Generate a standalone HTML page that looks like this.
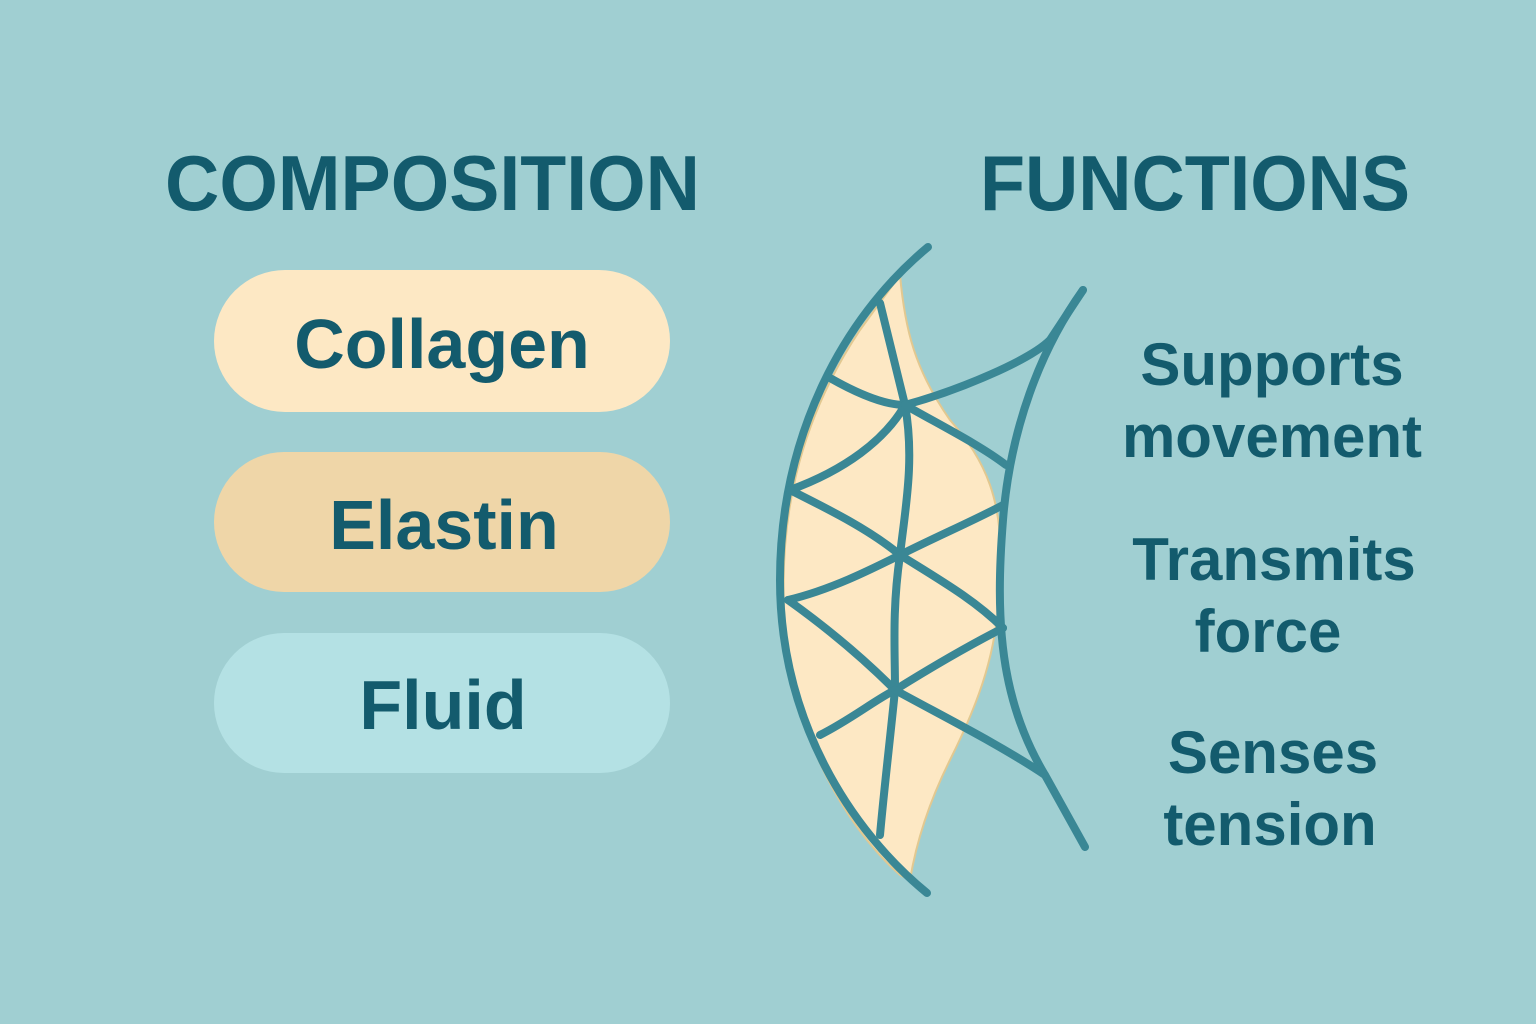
<!DOCTYPE html>
<html><head><style>html,body{margin:0;padding:0;background:#a0cfd2;}svg{display:block}</style></head>
<body>
<svg width="1536" height="1024" viewBox="0 0 1536 1024" xmlns="http://www.w3.org/2000/svg" font-family="Liberation Sans, sans-serif" font-weight="bold" fill="#135b6d">
<rect width="1536" height="1024" fill="#a0cfd2"/>
<text x="165" y="210" font-size="78" textLength="535" lengthAdjust="spacingAndGlyphs">COMPOSITION</text>
<text x="980" y="210" font-size="78" textLength="430" lengthAdjust="spacingAndGlyphs">FUNCTIONS</text>
<rect x="214" y="270" width="456" height="142" rx="71" fill="#fde8c4"/>
<rect x="214" y="452" width="456" height="140" rx="70" fill="#efd6a8"/>
<rect x="214" y="633" width="456" height="140" rx="70" fill="#b4e1e4"/>
<g font-size="70" text-anchor="middle">
<text x="442" y="368">Collagen</text>
<text x="444" y="549">Elastin</text>
<text x="443" y="729">Fluid</text>
</g>
<g font-size="60" text-anchor="middle">
<text x="1272" y="385">Supports</text>
<text x="1272" y="457">movement</text>
<text x="1274" y="580">Transmits</text>
<text x="1268" y="652">force</text>
<text x="1273" y="773">Senses</text>
<text x="1270" y="845">tension</text>
</g>
<path d="M900,275 C905,330 915,370 950,420 C985,460 1005,500 1000,580 C998,650 980,700 950,760 C925,810 915,850 910,880 L900,875 C860,840 800,760 786,640 C775,520 800,420 860,330 Z" fill="#fde8c4" stroke="#e2c890" stroke-width="2"/>
<g fill="none" stroke="#3a8795" stroke-width="8" stroke-linecap="round" stroke-linejoin="round">
<path d="M928,247 C840,320 780,440 780,580 C780,720 850,830 927,893"/>
<path d="M1083,290 C1040,350 1010,430 1003,520 C995,620 1000,700 1045,775 L1085,847"/>
<path d="M880,303 L905,405 C915,460 905,510 900,555 C892,610 895,650 895,690 C890,740 884,790 880,835"/>
<path d="M830,378 C860,395 885,405 905,405"/>
<path d="M790,490 C845,470 885,440 905,405"/>
<path d="M905,405 C960,390 1030,360 1050,340 L1083,290"/>
<path d="M905,405 C940,425 980,445 1006,465"/>
<path d="M790,490 C830,510 870,530 900,555"/>
<path d="M900,555 C940,535 975,520 1003,505"/>
<path d="M788,600 C830,590 870,570 900,555"/>
<path d="M900,555 C940,580 975,600 1003,628"/>
<path d="M788,600 C830,630 865,660 895,690"/>
<path d="M895,690 C935,665 970,645 1003,628"/>
<path d="M820,735 C850,720 875,700 895,690"/>
<path d="M895,690 C950,720 1000,745 1045,775"/>
</g>
</svg>
</body></html>
